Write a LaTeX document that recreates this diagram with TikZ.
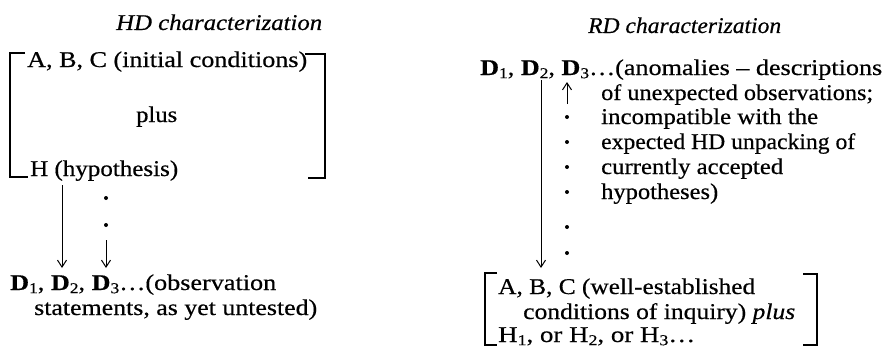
\documentclass[tikz,border=0pt]{standalone}
\usepackage{fontspec}
\usepackage{graphicx}
\setmainfont{Liberation Serif}[FakeStretch=1.1,FakeBold=0.5]
\usetikzlibrary{arrows.meta}
\tikzset{
  txt/.style={anchor=base west, inner sep=0pt, font=\fontsize{22.5}{24}\selectfont},
  brk/.style={line width=1.4pt},
  arr/.style={line width=1pt, -{Straight Barb[length=7pt,width=9pt,line width=1pt]}},
  dotm/.style={fill=black, draw=none}
}
\newcommand{\fw}[2]{\resizebox{#1pt}{\height}{#2}}
\newcommand{\sbs}[1]{\raisebox{-0.14em}{\fontsize{15}{15}\selectfont #1}}
\newcommand{\Dsub}[1]{\textbf{D}\sbs{#1}}
\begin{document}
\begin{tikzpicture}[x=1pt,y=-1pt]
\useasboundingbox (0,0) rectangle (891,348);
% ---------- HD characterization ----------
\node[txt] (hdt) at (116,30) {\fw{206}{\textit{HD characterization}}};
\node[txt] (abc) at (27,67) {\fw{280}{A, B, C (initial conditions)}};
\node[txt] (plus) at (136,122) {\fw{41}{plus}};
\node[txt] (hyp) at (30,176) {\fw{148}{H (hypothesis)}};
\node[txt] (dl) at (10,290) {\fw{266}{\Dsub{1}, \Dsub{2}, \Dsub{3}…(observation}};
\node[txt] (st) at (34,315) {\fw{283}{statements, as yet untested)}};
\draw[brk] (25,53) -- (10,53) -- (10,177) -- (28,177);
\draw[brk] (305,54) -- (325,54) -- (325,178) -- (308,178);
\coordinate (a1s) at (62,185);
\coordinate (a1e) at (62,268);
\draw[arr] (a1s) -- (a1e);
\fill[dotm] (106,198) circle (2);
\fill[dotm] (106,225) circle (2);
\coordinate (a2s) at (106,240);
\coordinate (a2e) at (106,268);
\draw[arr] (a2s) -- (a2e);
% ---------- RD characterization ----------
\node[txt] (rdt) at (588,33) {\fw{193}{\textit{RD characterization}}};
\node[txt] (r1) at (480,75) {\fw{402}{\Dsub{1}, \Dsub{2}, \Dsub{3}…(anomalies – descriptions}};
\node[txt] (r2) at (601,100) {\fw{272}{of unexpected observations;}};
\node[txt] (r3) at (601,124) {\fw{217}{incompatible with the}};
\node[txt] (r4) at (601,149) {\fw{254}{expected HD unpacking of}};
\node[txt] (r5) at (601,174) {\fw{182}{currently accepted}};
\node[txt] (r6) at (601,199) {\fw{117}{hypotheses)}};
\coordinate (u1s) at (567,104);
\coordinate (u1e) at (567,82);
\draw[arr] (u1s) -- (u1e);
\foreach \yy in {117,142,167,192,227,253} \fill[dotm] (567,\yy) circle (2);
\coordinate (d1s) at (541,80);
\coordinate (d1e) at (541,268);
\draw[arr] (d1s) -- (d1e);
\node[txt] (r7) at (498,294) {\fw{257}{A, B, C (well-established}};
\node[txt] (r8) at (523,319) {\fw{272}{conditions of inquiry) \textit{plus}}};
\node[txt] (r9) at (498,342) {\fw{197}{H\sbs{1}, or H\sbs{2}, or H\sbs{3}…}};
\draw[brk] (497,273) -- (485,273) -- (485,345) -- (497,345);
\draw[brk] (803,274) -- (817,274) -- (817,345) -- (803,345);
\end{tikzpicture}
\end{document}
